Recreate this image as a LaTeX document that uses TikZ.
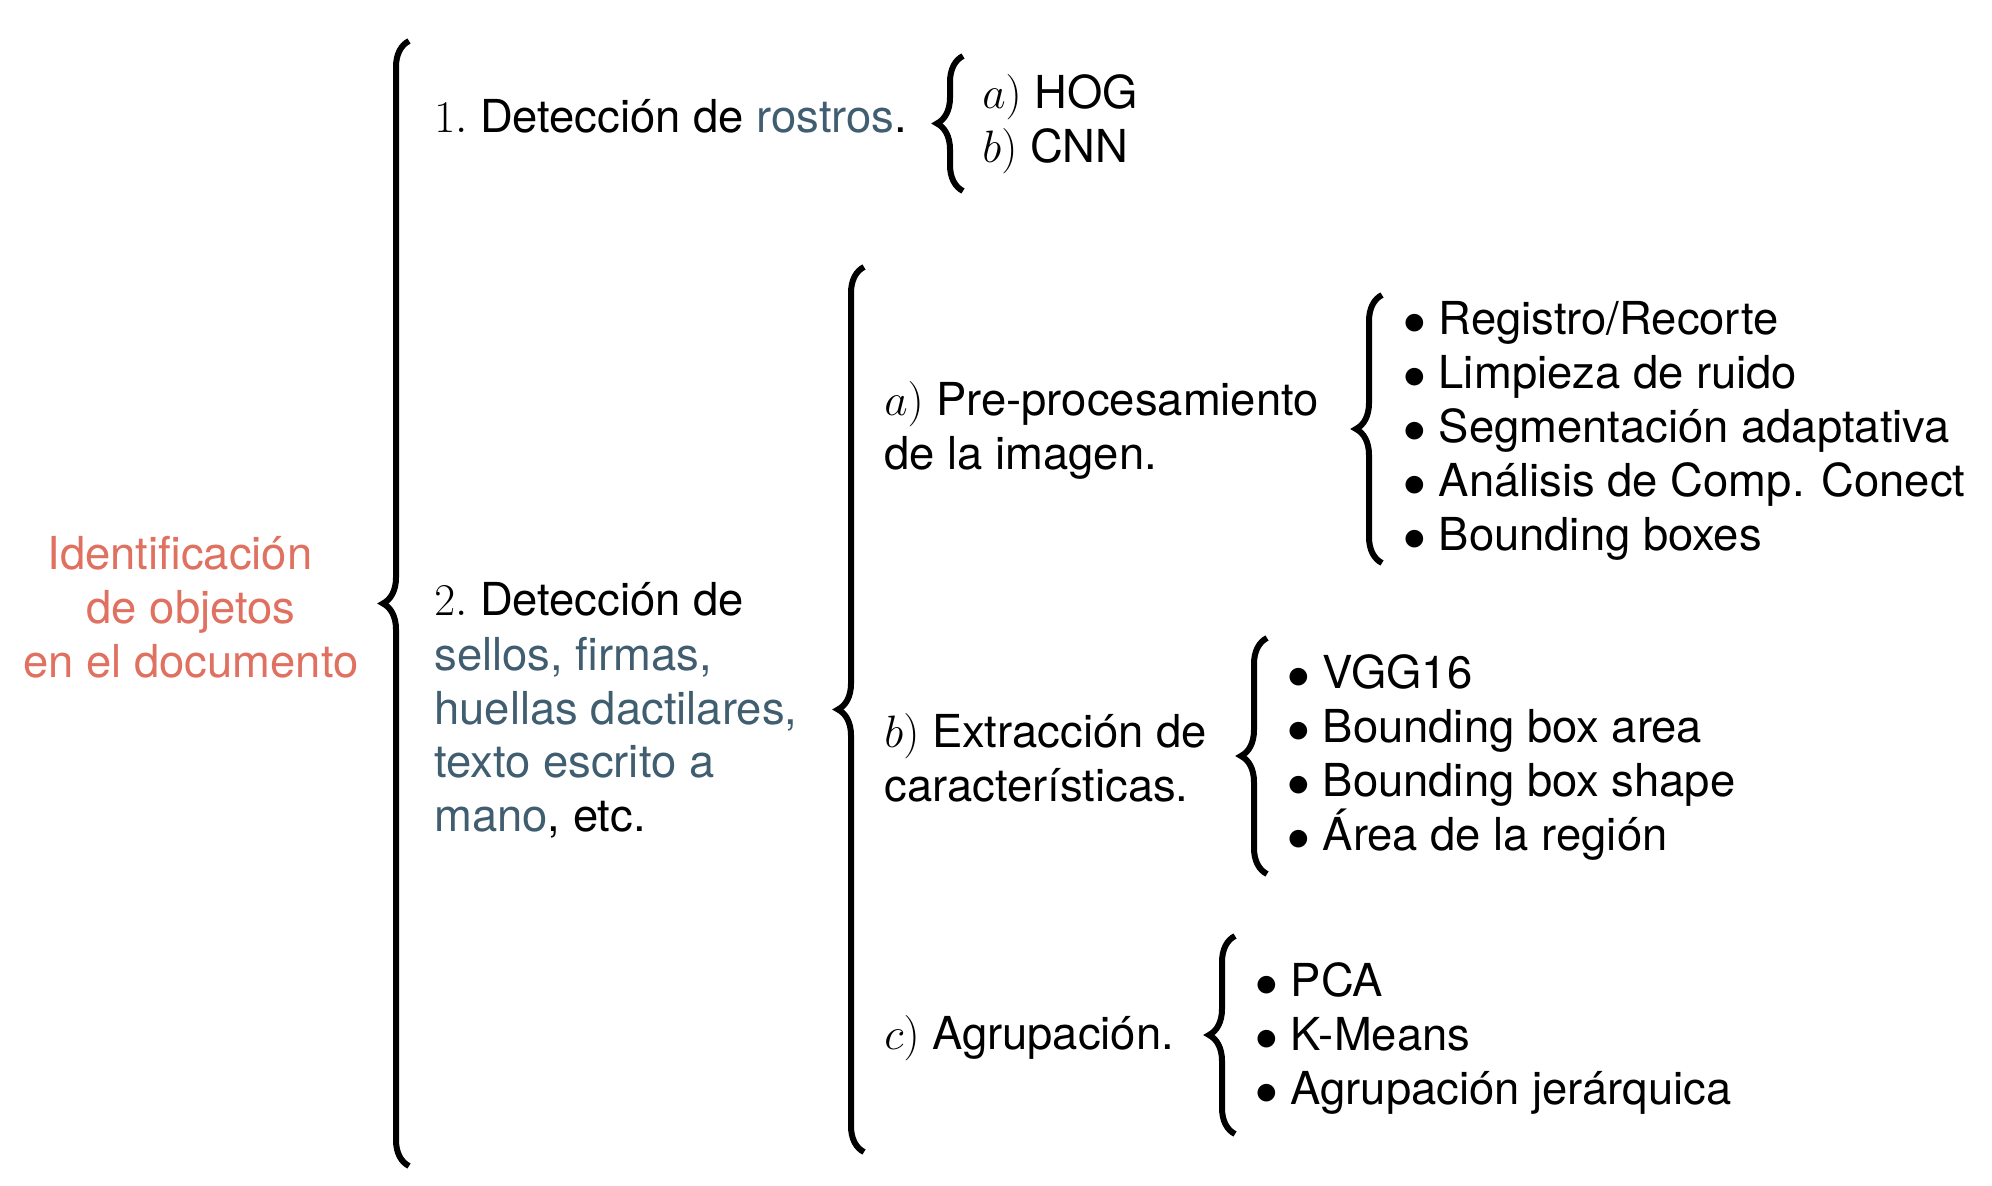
\RequirePackage{fix-cm}
\documentclass[tikz,border=0pt]{standalone}
\usepackage{fontspec}
\setmainfont{TeX Gyre Heros}
\usetikzlibrary{decorations.pathreplacing}
\definecolor{salmon}{RGB}{224,112,96}
\definecolor{slate}{RGB}{64,94,112}
\tikzset{
  brc/.style={decorate, decoration={brace, amplitude=13pt}, line width=3pt},
  txt/.style={anchor=base west, inner sep=0pt, align=left},
}

\begin{document}
\begin{tikzpicture}[x=0.5pt,y=0.5pt,yscale=-1,xscale=1,font={\fontsize{22.7}{27}\selectfont}]
\useasboundingbox (0,0) rectangle (1992,1186);

% texto (en bloques de varias lineas, base = ultima linea)
\node [txt, anchor=base, align=center, text=salmon] (raiz) at (191,678) {Identificación\hspace*{11pt}\\ de objetos\hspace*{12pt}\\ en el documento};
\node [txt] (det1) at (434,133) {$1.$ Detección de \textcolor{slate}{rostros}.};
\node [txt] (hog) at (982,109) {$a)$ HOG};
\node [txt] (cnn) at (982,163) {$b)$ CNN};
\node [txt] (det2) at (434,832) {$2.$ Detección de\\ \textcolor{slate}{sellos, firmas,}\\ \textcolor{slate}{huellas dactilares,}\\ \textcolor{slate}{texto escrito a}\\ \textcolor{slate}{mano}, etc.};
\node [txt] (prep) at (884,470) {$a)$ Pre-procesamiento\\ de la imagen.};
\node [txt] (extr) at (884,802) {$b)$ Extracción de\\ características.};
\node [txt] (agru) at (884,1049) {$c)$ Agrupación.};
\node [txt] (lsta) at (1403,551) {$\bullet$ Registro/Recorte\\ $\bullet$ Limpieza de ruido\\ $\bullet$ Segmentación adaptativa\\ $\bullet$ Análisis de Comp. Conect\\ $\bullet$ Bounding boxes};
\node [txt] (lstb) at (1287,850) {$\bullet$ VGG16\\ $\bullet$ Bounding box area\\ $\bullet$ Bounding box shape\\ $\bullet$ Área de la región};
\node [txt] (lstc) at (1255,1104) {$\bullet$ PCA\\ $\bullet$ K-Means\\ $\bullet$ Agrupación jerárquica};

% llaves
\coordinate (b0t) at (409,41);   \coordinate (b0b) at (409,1166);
\coordinate (b1t) at (963,56);   \coordinate (b1b) at (963,191);
\coordinate (b2t) at (864,267);  \coordinate (b2b) at (864,1152);
\coordinate (bat) at (1382,295); \coordinate (bab) at (1382,563);
\coordinate (bbt) at (1267,638); \coordinate (bbb) at (1267,874);
\coordinate (bct) at (1235,936); \coordinate (bcb) at (1235,1134);
\draw [brc] (b0b) -- (b0t);
\draw [brc] (b1b) -- (b1t);
\draw [brc] (b2b) -- (b2t);
\draw [brc] (bab) -- (bat);
\draw [brc] (bbb) -- (bbt);
\draw [brc] (bcb) -- (bct);
\end{tikzpicture}
\end{document}
